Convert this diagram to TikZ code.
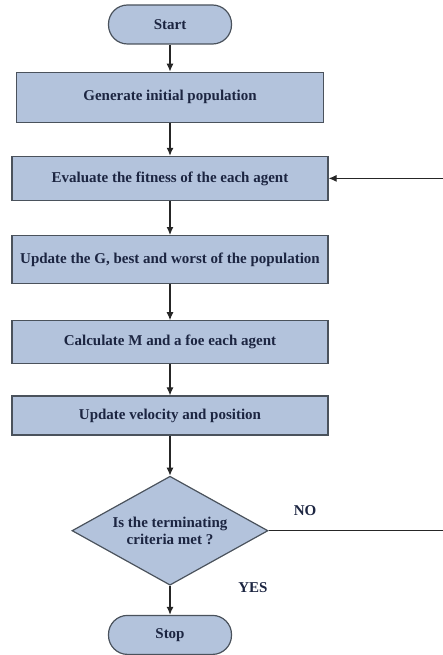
\documentclass[tikz,border=0pt]{standalone}
\usepackage{fontspec}
\setmainfont{Liberation Serif}
\usetikzlibrary{positioning,shapes.geometric,arrows.meta}
\definecolor{boxfill}{HTML}{B3C3DC}
\definecolor{boxline}{HTML}{4A525C}
\definecolor{boxtext}{HTML}{1C2541}
\begin{document}
\begin{tikzpicture}[
		font=\fontsize{15}{16.5}\selectfont\bfseries,
		every node/.style={text=boxtext},
		process/.style={rectangle,draw=boxline,fill=boxfill,line width=1.2pt,minimum width=316pt},
		terminal/.style={rectangle,rounded corners=19pt,draw=boxline,fill=boxfill,line width=1.2pt,minimum width=123pt,minimum height=39pt},
		decision/.style={diamond,draw=boxline,fill=boxfill,line width=1.2pt,aspect=1.8,inner sep=0pt,minimum width=196pt,minimum height=109pt,align=center},
		flow/.style={-{Latex[length=8pt,width=7pt]},line width=1.1pt,draw=black!85}
	]
	\useasboundingbox (0,0) rectangle (443pt,-655pt);
	\node[terminal] (start) at (170pt,-24.5pt) {Start};
	\node[process,below=27pt of start,minimum width=307pt,minimum height=50pt] (gen) {Generate initial population};
	\node[process,below=33pt of gen,minimum height=44pt] (eval) {Evaluate the fitness of the each agent};
	\node[process,below=34pt of eval,minimum height=48pt] (upd) {Update the G, best and worst of the population};
	\node[process,below=36pt of upd,minimum height=43pt] (calc) {Calculate M and a foe each agent};
	\node[process,below=31pt of calc,minimum height=39pt] (vel) {Update velocity and position};
	\node[decision,below=40pt of vel] (check) {Is the terminating\\criteria met ?};
	\node[terminal,below=29pt of check] (stop) {Stop};
	\node (no) at (305pt,-511pt) {NO};
	\node (yes) at (253pt,-588pt) {YES};
	\coordinate (back) at (450pt,-531pt);

	\draw[flow] (start) -- (gen);
	\draw[flow] (gen) -- (eval);
	\draw[flow] (eval) -- (upd);
	\draw[flow] (upd) -- (calc);
	\draw[flow] (calc) -- (vel);
	\draw[flow] (vel) -- (check);
	\draw[flow] (check) -- (stop);
	\draw[flow] (check.east) -- (check.east -| back) |- (eval.east);
\end{tikzpicture}
\end{document}
